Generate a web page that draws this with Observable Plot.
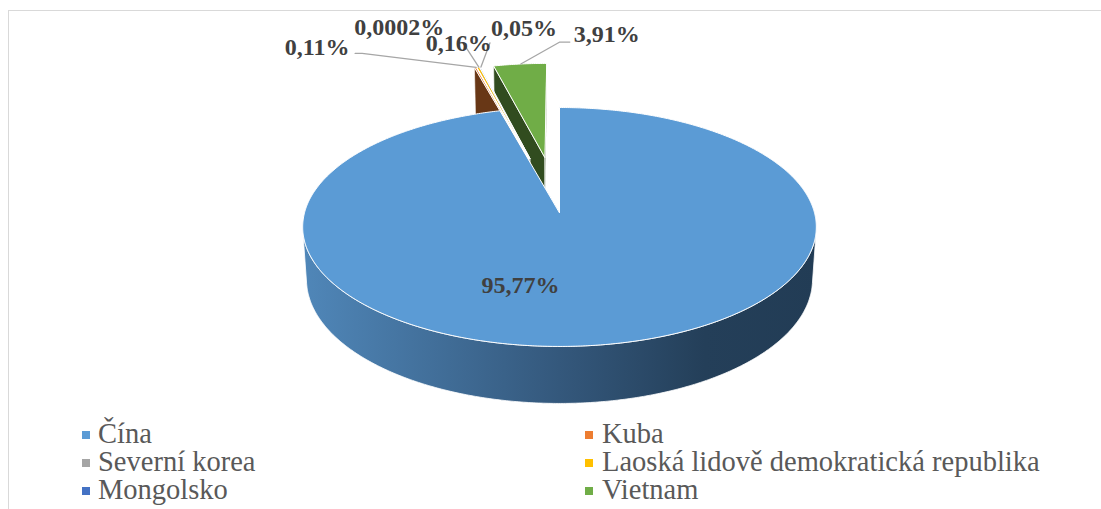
<!DOCTYPE html>
<html><head><meta charset="utf-8">
<script src="https://cdn.jsdelivr.net/npm/d3@7"></script>
<script src="https://cdn.jsdelivr.net/npm/@observablehq/plot@0.6"></script>
<style>
html,body{margin:0;padding:0;background:#fff;}
body{width:1101px;height:509px;overflow:hidden;position:relative;font-family:"Liberation Serif","Times New Roman",serif;}
#frame{position:absolute;left:8px;top:10px;width:1200px;height:600px;border-top:1.5px solid #d9d9d9;border-left:1.5px solid #d9d9d9;box-sizing:border-box;}
#wrap{position:absolute;left:0;top:0;width:1101px;}
#chart svg{display:block;background:transparent;}
#legend{position:relative;height:89px;}
.item{position:absolute;font-size:28.5px;line-height:28px;color:#595959;white-space:nowrap;}
.sw{position:absolute;width:8px;height:8px;}
</style></head>
<body>
<div id="frame"></div>
<div id="wrap"><div id="chart"></div><div id="legend"></div></div>
<script>
// ---- data ----
const categories = ["Čína", "Kuba", "Severní korea", "Laoská lidově demokratická republika", "Mongolsko", "Vietnam"];
const shares = [95.77, 0.11, 0.0002, 0.16, 0.05, 3.91];
const colors = ["#5b9bd5", "#ed7d31", "#a5a5a5", "#ffc000", "#4472c4", "#70ad47"];
const explode = [0, 0.5, 0.5, 0.5, 0.5, 0.5];
const labels = shares.map(v => String(v).replace(".", ",") + "%");

// ---- layout (pixel offsets of labels from their slice anchors) ----
const labelOffset = [[-39, 73], [-158, -20], [-77, -40], [-19, -24], [44, -39], [87, -30]];
const leaderVia = [null, [[38, 6], [45, 6]], null, [[5, 1]], [[-34, 15]], [[-37, 8], [-47, 8]]];

// ---- 3D projection ----
const W = 1101, H = 420;
const cx = 559, cy = 212, F = 1866, Dist = 7.32, tilt = 27.5 * Math.PI / 180;
const s = Math.sin(tilt), c = Math.cos(tilt), thick = 0.234;
function proj(x, z, y) {
  const Y = y * c + z * s, Zc = Dist - y * s + z * c;
  return {x: cx + F * x / Zc, y: cy - F * Y / Zc};
}
const camZ = -Dist * c;

const total = d3.sum(shares);
let acc = 0;
const slices = shares.map((v, i) => {
  const a0 = acc / total * 2 * Math.PI; acc += v;
  const a1 = acc / total * 2 * Math.PI;
  const mid = (a0 + a1) / 2;
  return {i, a0, a1, mid, ox: explode[i] * Math.sin(mid), oz: explode[i] * Math.cos(mid)};
});

function arc(sl, from, to, y) {
  const n = Math.max(1, Math.ceil(Math.abs(to - from) / (0.5 * Math.PI / 180)));
  const pts = [];
  for (let k = 0; k <= n; k++) {
    const a = from + (to - from) * k / n;
    pts.push(proj(sl.ox + Math.sin(a), sl.oz + Math.cos(a), y));
  }
  return pts;
}

const polys = [];
const order = slices.slice().sort((p, q) => Math.cos(q.mid) - Math.cos(p.mid));
for (const sl of order) {
  const col = colors[sl.i];
  const side = sl.i === 0 ? "url(#gradChina)" : d3.color(col).darker(2.3).formatHex();
  // outer wall (visible where cos(a) < -1/(Dist*c))
  const lim = Math.acos(-1 / (Dist * c));
  const w0 = Math.max(sl.a0, lim), w1 = Math.min(sl.a1, 2 * Math.PI - lim);
  if (w1 > w0) {
    const top = arc(sl, w0, w1, 0), bot = arc(sl, w1, w0, -thick);
    polys.push({pts: top.concat(bot), fill: side, stroke: "#ffffff", sw: 0.8});
  }
  // radial faces
  const faces = [[sl.a0, [-Math.cos(sl.a0), Math.sin(sl.a0)]], [sl.a1, [Math.cos(sl.a1), -Math.sin(sl.a1)]]];
  for (const [a, n] of faces) {
    const px = sl.ox + 0.5 * Math.sin(a), pz = sl.oz + 0.5 * Math.cos(a);
    if (n[0] * (0 - px) + n[1] * (camZ - pz) > 0 && sl.a1 - sl.a0 < Math.PI) {
      polys.push({pts: [proj(sl.ox, sl.oz, 0), proj(sl.ox + Math.sin(a), sl.oz + Math.cos(a), 0),
        proj(sl.ox + Math.sin(a), sl.oz + Math.cos(a), -thick), proj(sl.ox, sl.oz, -thick)],
        fill: side, stroke: "#ffffff", sw: 0.6});
    }
  }
  // top face
  polys.push({pts: [proj(sl.ox, sl.oz, 0)].concat(arc(sl, sl.a0, sl.a1, 0)), fill: col, stroke: "#ffffff", sw: 1});
}

// label anchors
const anchors = slices.map(sl => sl.i === 0 ? proj(0, 0, 0) :
  proj(sl.ox + Math.sin(sl.mid), sl.oz + Math.cos(sl.mid), 0));
const labelData = slices.map((sl, i) => ({text: labels[i], x: anchors[i].x + labelOffset[i][0], y: anchors[i].y + labelOffset[i][1]}));
const leaders = [];
slices.forEach((sl, i) => {
  if (!leaderVia[i]) return;
  leaderVia[i].forEach(([dx, dy]) => leaders.push({k: i, x: labelData[i].x + dx, y: labelData[i].y + dy}));
  leaders.push({k: i, x: anchors[i].x + 1, y: anchors[i].y});
});

const marks = polys.map(p => Plot.line(p.pts, {x: "x", y: "y", fill: p.fill, stroke: p.stroke, strokeWidth: p.sw, curve: "linear-closed"}));
marks.push(Plot.line(leaders, {x: "x", y: "y", z: "k", stroke: "#a6a6a6", strokeWidth: 1.3}));
marks.push(Plot.text(labelData, {x: "x", y: "y", text: "text", fontSize: 24, fontWeight: "bold", fill: "#404040", fontFamily: "Liberation Serif, Times New Roman, serif"}));

const chart = Plot.plot({
  width: W, height: H, margin: 0,
  x: {domain: [0, W], range: [0, W], axis: null},
  y: {domain: [0, H], range: [0, H], axis: null},
  style: {background: "transparent", overflow: "visible"},
  marks
});
// gradient for the 3D side of the large slice
const left = proj(-1, -0.12, 0).x, right = proj(1, -0.12, 0).x;
const g = d3.select(chart).insert("defs", ":first-child").append("linearGradient")
  .attr("id", "gradChina").attr("gradientUnits", "userSpaceOnUse")
  .attr("x1", left).attr("x2", right).attr("y1", 0).attr("y2", 0);
[[0, "#5087b9"], [0.5, "#34587c"], [0.78, "#243f59"], [1, "#223c55"]].forEach(([o, col]) =>
  g.append("stop").attr("offset", o).attr("stop-color", col));
document.getElementById("chart").appendChild(chart);

// legend
const legend = document.getElementById("legend");
const colX = [[82, 98], [585, 602]];
categories.forEach((name, i) => {
  const col = i % 2, row = Math.floor(i / 2);
  const sw = document.createElement("div");
  sw.className = "sw";
  sw.style.left = colX[col][0] + "px"; sw.style.top = (row * 28 + 10.5) + "px";
  sw.style.background = colors[i];
  legend.appendChild(sw);
  const t = document.createElement("div");
  t.className = "item";
  t.style.left = colX[col][1] + "px"; t.style.top = (row * 28) + "px";
  t.textContent = name;
  legend.appendChild(t);
});
</script>
</body></html>
